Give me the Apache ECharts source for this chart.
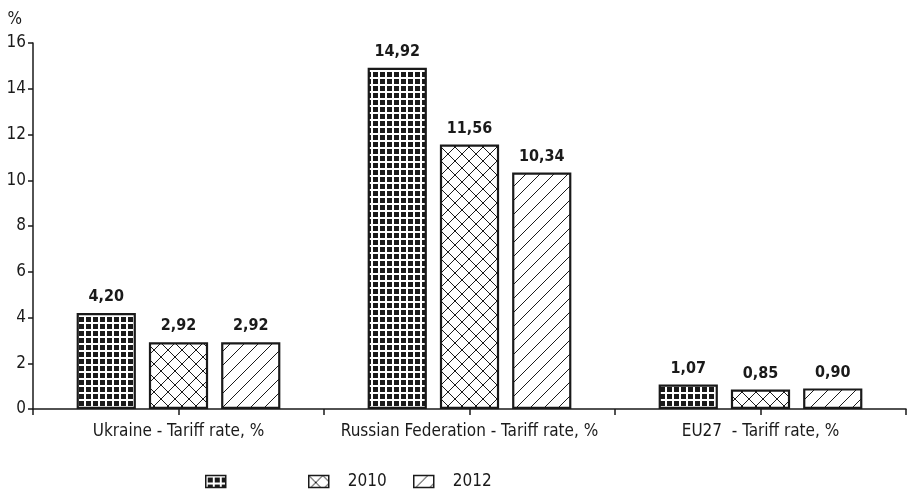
<!DOCTYPE html>
<html>
<head>
<meta charset="utf-8">
<script src="https://cdn.jsdelivr.net/npm/echarts@6/dist/echarts.min.js"></script>
<style>html,body{margin:0;padding:0;background:#fff;}#c{width:907px;height:494px;}</style>
</head>
<body>
<div id="c"></div>
<script>
const categories = ['Ukraine - Tariff rate, %', 'Russian Federation - Tariff rate, %', 'EU27  - Tariff rate, %'];
const seriesNames = [' ', '2010', '2012'];
const valuesFirst = [4.20, 14.92, 1.07];
const values2010 = [2.92, 11.56, 0.85];
const values2012 = [2.92, 10.34, 0.90];
const yMin = 0, yMax = 16, yInterval = 2;

const FONT = "'Liberation Sans Narrow', 'DejaVu Sans Condensed', 'Open Sans', sans-serif";
const INK = '#1a1a1a';

function makeCanvas(w, h, draw) {
  const c = document.createElement('canvas');
  c.width = w; c.height = h;
  const ctx = c.getContext('2d');
  draw(ctx, w, h);
  return c;
}
const gridPat = makeCanvas(7, 7, (ctx, w, h) => {
  ctx.fillStyle = '#ffffff'; ctx.fillRect(0, 0, w, h);
  ctx.fillStyle = INK; ctx.fillRect(2, 2, 5, 5);
});
const crossPat = makeCanvas(14, 14, (ctx, w, h) => {
  ctx.fillStyle = '#ffffff'; ctx.fillRect(0, 0, w, h);
  ctx.strokeStyle = INK; ctx.lineWidth = 1;
  ctx.beginPath();
  ctx.moveTo(0, 0); ctx.lineTo(w, h);
  ctx.moveTo(0, h); ctx.lineTo(w, 0);
  ctx.stroke();
});
const diagPat = makeCanvas(14, 14, (ctx, w, h) => {
  ctx.fillStyle = '#ffffff'; ctx.fillRect(0, 0, w, h);
  ctx.strokeStyle = INK; ctx.lineWidth = 1;
  ctx.beginPath();
  ctx.moveTo(0, h); ctx.lineTo(w, 0);
  ctx.moveTo(-2, 2); ctx.lineTo(2, -2);
  ctx.moveTo(w - 2, h + 2); ctx.lineTo(w + 2, h - 2);
  ctx.stroke();
});
const patterns = [gridPat, crossPat, diagPat];
const seriesValues = [valuesFirst, values2010, values2012];

const chart = echarts.init(document.getElementById('c'), null, {renderer: 'canvas'});
const labelFmt = p => p.value.toFixed(2).replace('.', ',');

const legendLefts = [205, 308, 413];
const option = {
  backgroundColor: '#ffffff',
  animation: false,
  textStyle: {fontFamily: FONT, color: INK},
  grid: {left: 33, right: 1, top: 43, bottom: 85, containLabel: false},
  legend: seriesNames.map((n, i) => ({
    data: [n],
    icon: 'rect',
    left: legendLefts[i],
    top: 473,
    itemWidth: 20,
    itemHeight: 12,
    padding: 0,
    itemGap: 0,
    itemStyle: {borderWidth: 1.5, borderColor: INK},
    textStyle: {fontFamily: FONT, fontSize: 17, color: INK, padding: [0, 0, 0, 14]},
    selectedMode: false
  })),
  xAxis: [{
    type: 'category',
    data: categories,
    position: 'bottom',
    axisLine: {lineStyle: {color: INK, width: 1.5}},
    axisTick: {show: true, alignWithLabel: false, interval: 0, length: 6, lineStyle: {color: INK, width: 1.5}},
    axisLabel: {interval: 0, fontFamily: FONT, fontSize: 17, color: INK, margin: 14}
  }, {
    type: 'category',
    data: categories,
    position: 'bottom',
    offset: 0,
    axisLine: {show: false},
    axisTick: {show: true, alignWithLabel: true, interval: 0, length: 6, lineStyle: {color: INK, width: 1.5}},
    axisLabel: {show: false}
  }],
  yAxis: {
    type: 'value',
    min: yMin, max: yMax, interval: yInterval,
    name: '%',
    nameLocation: 'end',
    nameGap: 15,
    nameTextStyle: {fontFamily: FONT, fontSize: 17, color: INK, align: 'right', padding: [0, 11, 0, 0]},
    axisLine: {show: true, lineStyle: {color: INK, width: 1.5}},
    axisTick: {show: true, length: 5, lineStyle: {color: INK, width: 1.5}},
    axisLabel: {fontFamily: FONT, fontSize: 17, color: INK, margin: 7},
    splitLine: {show: false}
  },
  series: seriesNames.map((n, i) => ({
    name: n,
    type: 'bar',
    xAxisIndex: 0,
    data: seriesValues[i],
    barGap: '22%',
    barCategoryGap: '30%',
    itemStyle: {
      color: {image: patterns[i], repeat: 'repeat'},
      borderColor: INK,
      borderWidth: 2.2
    },
    label: {
      show: true,
      position: 'top',
      distance: 8,
      formatter: labelFmt,
      fontFamily: FONT,
      fontSize: 16,
      fontWeight: 'bold',
      color: INK
    }
  }))
};
chart.setOption(option);
</script>
</body>
</html>
